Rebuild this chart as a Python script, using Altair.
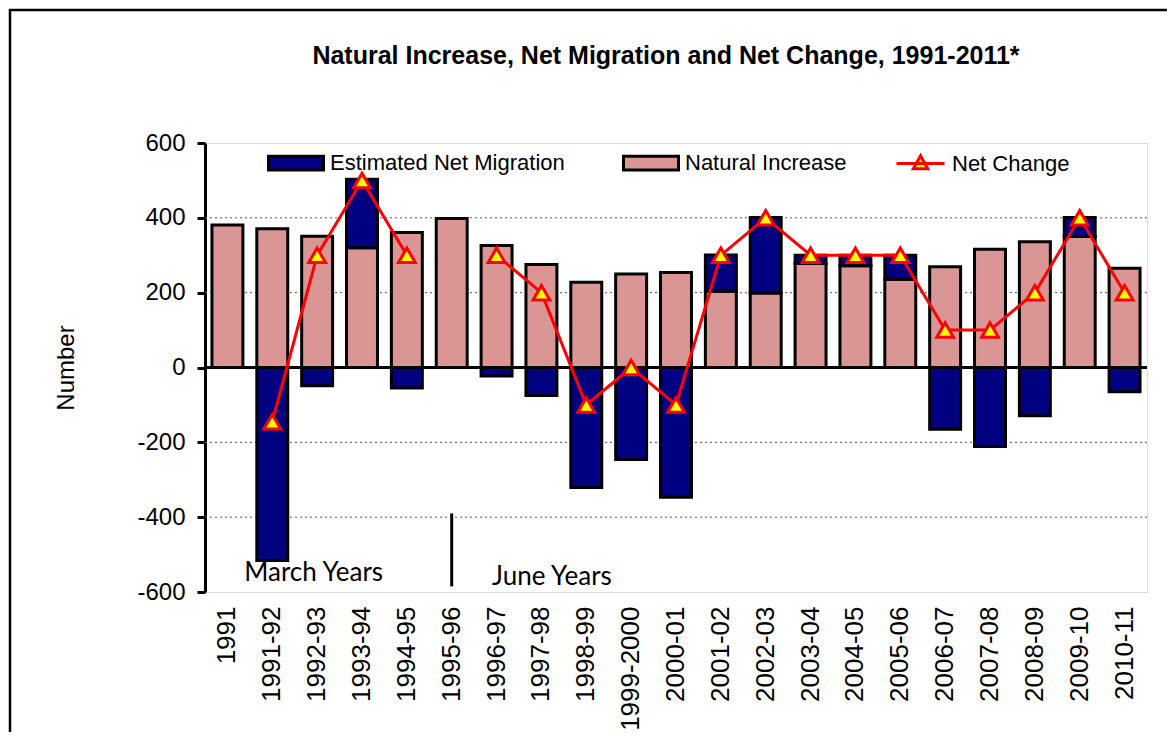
import altair as alt
import pandas as pd

categories = ["1991", "1991-92", "1992-93", "1993-94", "1994-95", "1995-96", "1996-97",
              "1997-98", "1998-99", "1999-2000", "2000-01", "2001-02", "2002-03", "2003-04",
              "2004-05", "2005-06", "2006-07", "2007-08", "2008-09", "2009-10", "2010-11"]
natural_increase = [381, 371, 351, 320, 361, 398, 326, 275, 228, 250, 254, 204, 199, 278,
                    272, 236, 269, 316, 336, 350, 265]
net_migration = [None, -516, -49, 183, -55, None, -23, -75, -321, -246, -347, 97, 202, 22,
                 28, 64, -165, -211, -129, 51, -65]
net_change = [None, -145, 300, 500, 300, None, 300, 200, -100, 0, -100, 300, 400, 300,
              300, 300, 100, 100, 200, 400, 200]

y_ticks = [-600, -400, -200, 0, 200, 400, 600]
grid_values = [-400, -200, 200, 400]

annot_labels = ["March Years", "June Years"]
annot_cats = ["1992-93", "1997-98"]
annot_vals = [-550, -560]
annot_dx = [12, 26]

divider_cat = ["1995-96"]
divider_top = [-390]
divider_bottom = [-585]

df = pd.DataFrame({
    "cat": categories,
    "ni": natural_increase,
    "mig": net_migration,
    "net": net_change,
})
annot_df = pd.DataFrame({"label": annot_labels, "cat": annot_cats, "v": annot_vals, "dx": annot_dx})
div_df = pd.DataFrame({"cat": divider_cat, "top": divider_top, "bottom": divider_bottom})
grid_df = pd.DataFrame({"g": grid_values})

FONT = "Liberation Sans"
NAVY = "#000080"
PINK = "#DA9694"

xenc = alt.X("cat:N", sort=categories, title=None,
             scale=alt.Scale(paddingInner=0.31, paddingOuter=0.155),
             axis=alt.Axis(labelAngle=-90, labelAlign="right", labelBaseline="middle",
                           labelFontSize=26, labelFont=FONT, labelColor="black",
                           labelPadding=14, ticks=False, domain=False))
yscale = alt.Scale(domain=[-600, 600], nice=False, zero=False)

fill_scale = alt.Scale(domain=["Estimated Net Migration", "Natural Increase"], range=[NAVY, PINK])
fill_legend = alt.Legend(orient="none", legendX=62, legendY=-9, direction="horizontal",
                         title=None, symbolType="M-1,-0.25H1V0.25H-1Z", symbolSize=3025,
                         symbolStrokeColor="black", symbolStrokeWidth=3, symbolOpacity=1,
                         labelFont=FONT, labelFontSize=22, labelColor="black",
                         labelOffset=5, columnPadding=52, labelLimit=400)

base = alt.Chart(df)

grid = alt.Chart(grid_df).mark_rule(color="#555555", strokeWidth=1, strokeDash=[2, 3]).encode(
    y=alt.Y("g:Q", scale=yscale))

pink = base.transform_calculate(series="'Natural Increase'", zero="0").mark_bar(
    stroke="black", strokeWidth=3).encode(
    x=xenc,
    y=alt.Y("ni:Q", scale=yscale, title="Number",
            axis=alt.Axis(values=y_ticks, grid=False, labelExpr="'' + datum.value",
                          domainColor="black", domainWidth=3, tickColor="black",
                          tickWidth=3, tickSize=8, labelFont=FONT, labelFontSize=24,
                          labelColor="black", labelPadding=12, titleFont=FONT,
                          titleFontSize=24, titleFontWeight="normal", titleColor="black",
                          titlePadding=58)),
    y2=alt.Y2("zero:Q"),
    fill=alt.Fill("series:N", scale=fill_scale, legend=fill_legend),
)

navy = base.transform_filter("isValid(datum.mig)").transform_calculate(
    series="'Estimated Net Migration'",
    start="datum.mig > 0 ? max(datum.ni, 0) : 0",
    end="(datum.mig > 0 ? max(datum.ni, 0) : 0) + datum.mig",
).mark_bar(stroke="black", strokeWidth=3).encode(
    x=alt.X("cat:N", sort=categories),
    y=alt.Y("start:Q", scale=yscale),
    y2=alt.Y2("end:Q"),
    fill=alt.Fill("series:N", scale=fill_scale, legend=fill_legend),
)

zero_rule = alt.Chart(pd.DataFrame({"z": [0]})).mark_rule(color="black", strokeWidth=3).encode(
    y=alt.Y("z:Q", scale=yscale))

line = base.transform_calculate(series2="'Net Change'").mark_line(
    strokeWidth=3, invalid="break-paths-show-domains").encode(
    x=alt.X("cat:N", sort=categories),
    y=alt.Y("net:Q", scale=yscale),
    stroke=alt.Stroke("series2:N", scale=alt.Scale(domain=["Net Change"], range=["#FF0000"]),
                      legend=alt.Legend(orient="none", legendX=690, legendY=-5, title=None,
                                        symbolType="M-1,0H1M0,-0.32L0.3,0.22L-0.3,0.22Z",
                                        symbolSize=2304, symbolFillColor="#FFFF00",
                                        symbolStrokeWidth=3, labelFont=FONT,
                                        labelFontSize=22, labelColor="black", labelOffset=6)),
)

points = base.transform_filter("isValid(datum.net)").mark_point(
    shape="triangle-up", filled=True, fill="#FFFF00", stroke="#FF0000", strokeWidth=3,
    size=280, opacity=1).encode(
    x=alt.X("cat:N", sort=categories),
    y=alt.Y("net:Q", scale=yscale),
)

annots = alt.Chart(annot_df).mark_text(font="Lato", fontSize=26, color="black",
                                       align="center", baseline="middle").encode(
    x=alt.X("cat:N", sort=categories),
    y=alt.Y("v:Q", scale=yscale),
    text="label:N",
    xOffset=alt.XOffset("dx:Q", scale=None),
)

divider = alt.Chart(div_df).mark_rule(color="black", strokeWidth=3).encode(
    x=alt.X("cat:N", sort=categories),
    y=alt.Y("top:Q", scale=yscale),
    y2="bottom:Q",
)

frame = alt.Chart(pd.DataFrame({"a": [0]})).mark_rect(
    fill="transparent", stroke="black", strokeWidth=2.5).encode(
    x=alt.value(-195), x2=alt.value(1100), y=alt.value(-133), y2=alt.value(700))

chart = alt.layer(frame, grid, pink, navy, zero_rule, divider, annots, line, points).properties(
    width=942, height=449,
    title=alt.TitleParams("Natural Increase, Net Migration and Net Change, 1991-2011*",
                          font=FONT, fontSize=25, fontWeight="bold", color="black",
                          anchor="middle", frame="group", offset=-60, dx=-10),
    padding={"left": 197, "top": 135, "right": 20, "bottom": 140},
    autosize=alt.AutoSizeParams(type="none"),
).configure_view(stroke="#808080", strokeWidth=3).configure(background="white")

chart.save("out.html", embed_options={"renderer": "svg", "actions": False})
